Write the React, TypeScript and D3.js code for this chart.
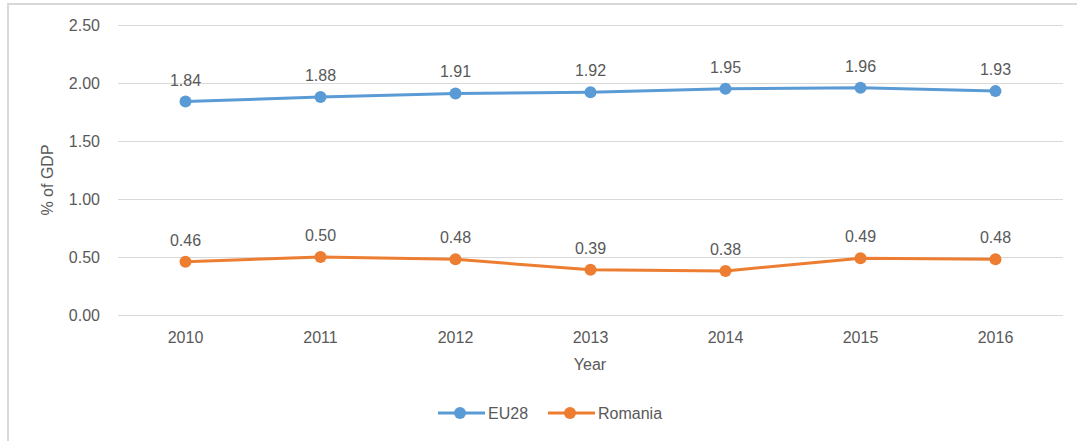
import * as d3 from "d3";
import { useEffect, useRef } from "react";

const years = ["2010", "2011", "2012", "2013", "2014", "2015", "2016"];
const eu28 = [1.84, 1.88, 1.91, 1.92, 1.95, 1.96, 1.93];
const romania = [0.46, 0.5, 0.48, 0.39, 0.38, 0.49, 0.48];
const yTicks = [0, 0.5, 1, 1.5, 2, 2.5];

const seriesList = [
  { name: "EU28", values: eu28, color: "#5B9BD5" },
  { name: "Romania", values: romania, color: "#ED7D31" },
];

const W = 1077;
const H = 441;
const plot = { left: 118, right: 1063, top: 25, bottom: 315 };
const FONT = "'Liberation Sans', Arial, sans-serif";
const TEXT = "#595959";

const App = () => {
  const svgRef = useRef<SVGSVGElement>(null);

  useEffect(() => {
    const svg = d3.select(svgRef.current);
    svg.selectAll("*").remove();

    // chart frame
    svg
      .append("rect")
      .attr("x", 8)
      .attr("y", 4)
      .attr("width", W + 20)
      .attr("height", H + 20)
      .attr("fill", "#fff")
      .attr("stroke", "#d9d9d9")
      .attr("stroke-width", 2);

    const x = d3
      .scaleBand()
      .domain(years)
      .range([plot.left, plot.right]);
    const y = d3
      .scaleLinear()
      .domain([0, 2.5])
      .range([plot.bottom, plot.top]);
    const cx = (d: string) => (x(d) as number) + x.bandwidth() / 2;

    // gridlines
    svg
      .append("g")
      .selectAll("line")
      .data(yTicks)
      .join("line")
      .attr("x1", plot.left)
      .attr("x2", plot.right)
      .attr("y1", (d) => Math.round(y(d)) + 0.5)
      .attr("y2", (d) => Math.round(y(d)) + 0.5)
      .attr("stroke", "#d9d9d9")
      .attr("stroke-width", 1);

    // y tick labels
    svg
      .append("g")
      .selectAll("text")
      .data(yTicks)
      .join("text")
      .attr("x", 100)
      .attr("y", (d) => y(d) + 6)
      .attr("text-anchor", "end")
      .attr("font-family", FONT)
      .attr("font-size", 16)
      .attr("fill", TEXT)
      .text((d) => d3.format(".2f")(d));

    // x tick labels
    svg
      .append("g")
      .selectAll("text")
      .data(years)
      .join("text")
      .attr("x", (d) => cx(d))
      .attr("y", 343)
      .attr("text-anchor", "middle")
      .attr("font-family", FONT)
      .attr("font-size", 16)
      .attr("fill", TEXT)
      .text((d) => d);

    // axis titles
    svg
      .append("text")
      .attr("transform", `translate(53, ${(plot.top + plot.bottom) / 2 + 10}) rotate(-90)`)
      .attr("text-anchor", "middle")
      .attr("font-family", FONT)
      .attr("font-size", 16)
      .attr("fill", TEXT)
      .text("% of GDP");

    svg
      .append("text")
      .attr("x", 590)
      .attr("y", 370)
      .attr("text-anchor", "middle")
      .attr("font-family", FONT)
      .attr("font-size", 16)
      .attr("fill", TEXT)
      .text("Year");

    const line = d3
      .line<number>()
      .x((_, i) => cx(years[i]))
      .y((d) => y(d));

    seriesList.forEach((s) => {
      const g = svg.append("g");
      g.append("path")
        .attr("d", line(s.values))
        .attr("fill", "none")
        .attr("stroke", s.color)
        .attr("stroke-width", 3)
        .attr("stroke-linejoin", "round");
      g.selectAll("circle")
        .data(s.values)
        .join("circle")
        .attr("cx", (_, i) => cx(years[i]))
        .attr("cy", (d) => y(d))
        .attr("r", 6)
        .attr("fill", s.color);
      g.selectAll("text")
        .data(s.values)
        .join("text")
        .attr("x", (_, i) => cx(years[i]))
        .attr("y", (d) => y(d) - 16)
        .attr("text-anchor", "middle")
        .attr("font-family", FONT)
        .attr("font-size", 16)
        .attr("fill", TEXT)
        .text((d) => d3.format(".2f")(d));
    });

    // legend
    const legendX = [438, 548];
    seriesList.forEach((s, i) => {
      const lg = svg.append("g").attr("transform", `translate(${legendX[i]}, 413)`);
      lg.append("line")
        .attr("x1", 0)
        .attr("x2", 47)
        .attr("stroke", s.color)
        .attr("stroke-width", 3);
      lg.append("circle").attr("cx", 22).attr("r", 6).attr("fill", s.color);
      lg.append("text")
        .attr("x", 50)
        .attr("y", 6)
        .attr("font-family", FONT)
        .attr("font-size", 16)
        .attr("fill", TEXT)
        .text(s.name);
    });
  }, []);

  return (
    <svg
      ref={svgRef}
      width={W}
      height={H}
      style={{ position: "absolute", left: 0, top: 0, background: "#fff" }}
    />
  );
};

export default App;
